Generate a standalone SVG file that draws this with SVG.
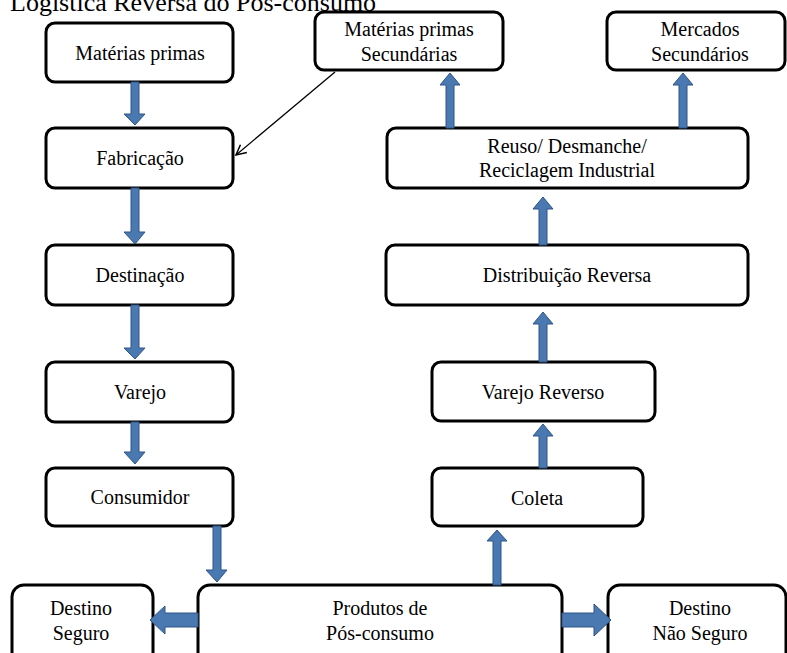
<svg xmlns="http://www.w3.org/2000/svg" width="787" height="653" viewBox="0 0 787 653">
<defs>
<style>
.box{fill:#fff;stroke:#000;stroke-width:3}
.t{font-family:'Liberation Serif','Times New Roman',serif;font-size:20px;fill:#000;text-anchor:middle}
.ttl{font-family:'Liberation Serif','Times New Roman',serif;font-size:26px;fill:#000}
.blk{fill:#4a78b0;stroke:#2e5487;stroke-width:1}
.thin{fill:none;stroke:#000;stroke-width:1.3}
</style>
<marker id="open" viewBox="0 0 12 12" refX="11" refY="6" markerWidth="12" markerHeight="12" markerUnits="userSpaceOnUse" orient="auto">
<path d="M1,1 L11,6 L1,11" fill="none" stroke="#000" stroke-width="1.5"/>
</marker>
</defs>
<rect width="787" height="653" fill="#fff"/>
<text class="ttl" x="10" y="11">Logística Reversa do Pós-consumo</text>

<g id="materias-primas"><rect class="box" x="46" y="23" width="187" height="59" rx="9"/><text class="t" x="140" y="60">Matérias primas</text></g>
<g id="fabricacao"><rect class="box" x="46" y="128" width="187" height="60" rx="9"/><text class="t" x="140" y="165">Fabricação</text></g>
<g id="destinacao"><rect class="box" x="46" y="245" width="187" height="60" rx="9"/><text class="t" x="140" y="282">Destinação</text></g>
<g id="varejo"><rect class="box" x="46" y="362" width="187" height="60" rx="9"/><text class="t" x="140" y="399">Varejo</text></g>
<g id="consumidor"><rect class="box" x="46" y="468" width="187" height="58" rx="9"/><text class="t" x="140" y="504">Consumidor</text></g>
<g id="produtos"><rect class="box" x="198" y="585" width="364" height="80" rx="12"/><text class="t" x="380" y="615">Produtos de</text><text class="t" x="380" y="640">Pós-consumo</text></g>
<g id="destino-seguro"><rect class="box" x="12" y="585" width="141" height="80" rx="12"/><text class="t" x="81" y="615">Destino</text><text class="t" x="81" y="640">Seguro</text></g>
<g id="destino-nao-seguro"><rect class="box" x="608" y="585" width="178" height="80" rx="12"/><text class="t" x="700" y="615">Destino</text><text class="t" x="700" y="640">Não Seguro</text></g>
<g id="coleta"><rect class="box" x="432" y="468" width="211" height="58" rx="9"/><text class="t" x="537" y="505">Coleta</text></g>
<g id="varejo-reverso"><rect class="box" x="432" y="362" width="223" height="59" rx="9"/><text class="t" x="543" y="399">Varejo Reverso</text></g>
<g id="distribuicao-reversa"><rect class="box" x="386" y="245" width="362" height="60" rx="9"/><text class="t" x="567" y="282">Distribuição Reversa</text></g>
<g id="reuso"><rect class="box" x="387" y="128" width="361" height="60" rx="9"/><text class="t" x="567" y="153">Reuso/ Desmanche/</text><text class="t" x="567" y="177">Reciclagem Industrial</text></g>
<g id="materias-secundarias"><rect class="box" x="315" y="12" width="188" height="58" rx="9"/><text class="t" x="409" y="36">Matérias primas</text><text class="t" x="409" y="61">Secundárias</text></g>
<g id="mercados-secundarios"><rect class="box" x="607" y="12" width="178" height="58" rx="9"/><text class="t" x="700" y="36">Mercados</text><text class="t" x="700" y="61">Secundários</text></g>

<g id="connectors">
<path class="blk" d="M131,82 H139 V114 H145 L135,125 L124,114 H131 Z"/>
<path class="blk" d="M131,188 H139 V232 H145 L135,244 L124,232 H131 Z"/>
<path class="blk" d="M131,305 H139 V348 H145 L135,359 L124,348 H131 Z"/>
<path class="blk" d="M131,422 H139 V452 H145 L135,464 L124,452 H131 Z"/>
<path class="blk" d="M213,526 H221 V570 H227 L217,582 L206,570 H213 Z"/>
<path class="blk" d="M198,613 V627 H165 V634 L150,620 L165,606 V613 Z"/>
<path class="blk" d="M562,613 V627 H594 V636 L611,620 L594,604 V613 Z"/>
<path class="blk" d="M493,585 H501 V541 H507 L497,530 L487,541 H493 Z"/>
<path class="blk" d="M539,468 H547 V436 H553 L543,424 L533,436 H539 Z"/>
<path class="blk" d="M539,362 H547 V324 H553 L543,312 L533,324 H539 Z"/>
<path class="blk" d="M539,245 H547 V209 H553 L543,197 L533,209 H539 Z"/>
<path class="blk" d="M446,128 H454 V85 H460 L450,73 L440,85 H446 Z"/>
<path class="blk" d="M679,128 H687 V85 H693 L683,73 L673,85 H679 Z"/>
<line class="thin" x1="335" y1="72" x2="236" y2="155" marker-end="url(#open)"/>
</g>
</svg>
